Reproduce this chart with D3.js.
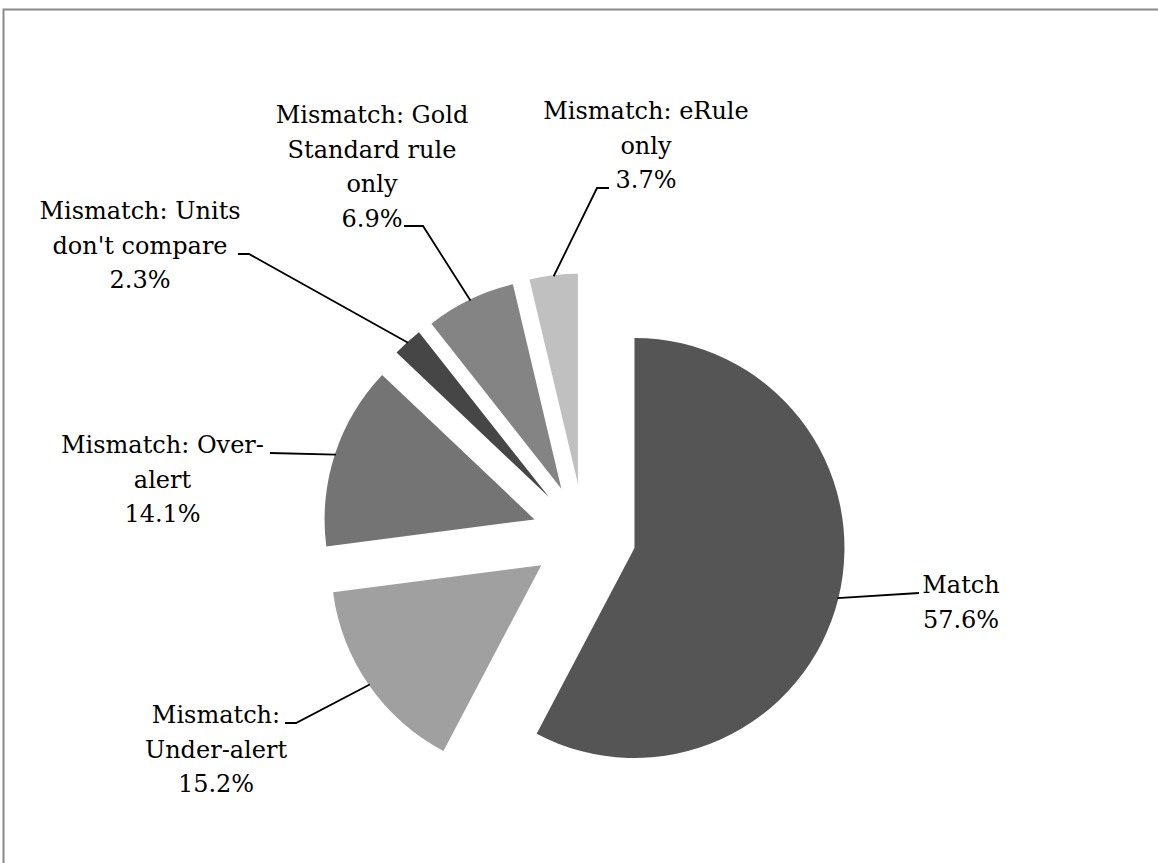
<!DOCTYPE html>
<html><head><meta charset="utf-8">
<script src="https://cdn.jsdelivr.net/npm/d3@7"></script>
<style>html,body{margin:0;padding:0;background:#fff;} svg{display:block}</style>
</head><body><svg id="chart" width="1158" height="863"></svg>
<script>
// ---- data ----
const categories = ["Match", "Mismatch: Under-alert", "Mismatch: Over-alert",
  "Mismatch: Units don't compare", "Mismatch: Gold Standard rule only", "Mismatch: eRule only"];
const values = [57.6, 15.2, 14.1, 2.3, 6.9, 3.7];
const labelLines = [["Match"], ["Mismatch:", "Under-alert"], ["Mismatch: Over-", "alert"],
  ["Mismatch: Units", "don't compare"], ["Mismatch: Gold", "Standard rule", "only"], ["Mismatch: eRule", "only"]];
const colors = ["#555555", "#a0a0a0", "#747474", "#464646", "#848484", "#c0c0c0"];

// ---- layout (positions only) ----
const cx = 584, cy = 535.5, R = 210, EXPLODE = 52, LH = 34.7;
const labelLayout = [
  {x: 961, y: 593, pts: [[919, 593]]},
  {x: 216, y: 723, pts: [[285, 723], [296, 723]]},
  {x: 162.5, y: 453, pts: [[270, 453]]},
  {x: 140, y: 219, pts: [[238, 254], [249, 254]]},
  {x: 372, y: 123, pts: [[404, 226], [423, 226]]},
  {x: 646, y: 119, pts: [[609, 188], [597, 188]]}
];

const svg = d3.select("#chart");
svg.append("rect").attr("x", 3.5).attr("y", 9.5).attr("width", 1300).attr("height", 1000)
  .attr("fill", "none").attr("stroke", "#8a8a8a").attr("stroke-width", 2);

const pie = d3.pie().sort(null).value(d => d);
const arcs = pie(values);
const arc = d3.arc().innerRadius(0).outerRadius(R);
const g = svg.append("g").attr("transform", `translate(${cx},${cy})`);

const dirOf = a => { const m = (a.startAngle + a.endAngle) / 2; return [Math.sin(m), -Math.cos(m)]; };

g.selectAll("path.slice").data(arcs).enter().append("path")
  .attr("class", "slice")
  .attr("d", arc)
  .attr("fill", (d, i) => colors[i])
  .attr("transform", d => { const [dx, dy] = dirOf(d); return `translate(${dx * EXPLODE},${dy * EXPLODE})`; });

const fmt = d3.format(".1f");
const line = d3.line();
arcs.forEach((a, i) => {
  const L = labelLayout[i];
  const [dx, dy] = dirOf(a);
  const end = [cx + dx * (R + EXPLODE - 1), cy + dy * (R + EXPLODE - 1)];
  svg.append("path").attr("d", line([...L.pts, end]))
    .attr("fill", "none").attr("stroke", "#000").attr("stroke-width", 1.8);
  const lines = [...labelLines[i], fmt(values[i]) + "%"];
  const t = svg.append("text").attr("text-anchor", "middle")
    .attr("font-family", "'DejaVu Serif', serif").attr("font-size", 24).attr("fill", "#000");
  lines.forEach((s, k) => t.append("tspan").attr("x", L.x).attr("y", L.y + k * LH).text(s));
});
</script></body></html>
